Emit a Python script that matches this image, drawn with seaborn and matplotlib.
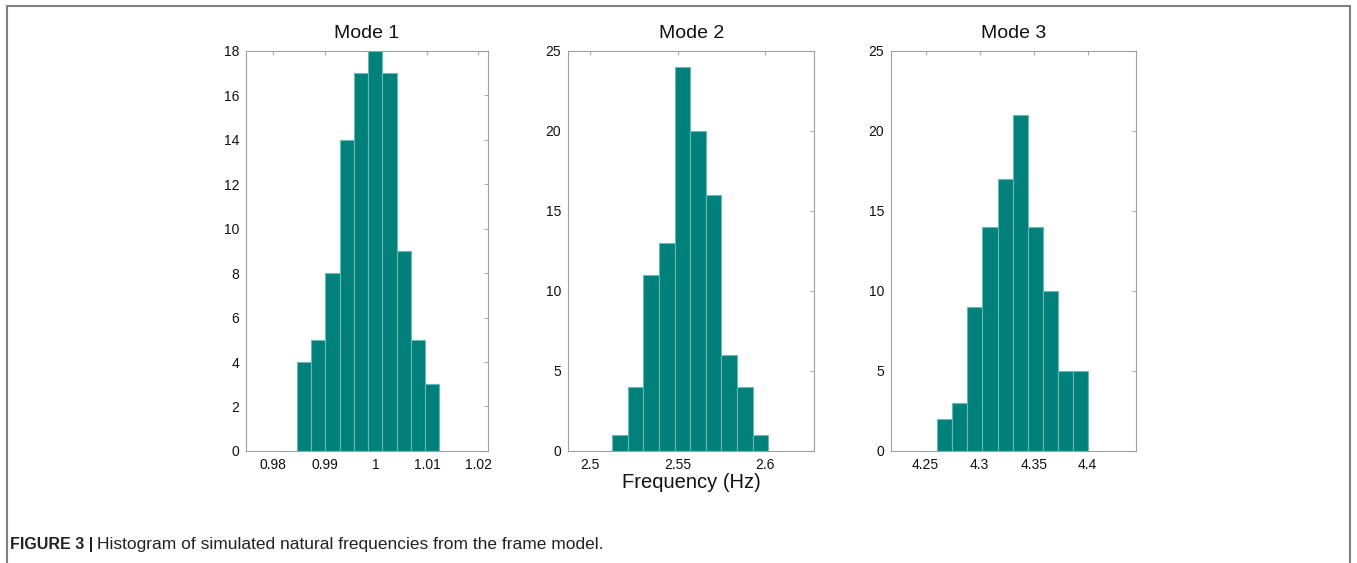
import numpy as np
import matplotlib
matplotlib.use('Agg')
import matplotlib.pyplot as plt
from matplotlib.lines import Line2D
import seaborn as sns

# bin edges and counts
mode1_edges = [0.98457, 0.98735, 0.99013, 0.99291, 0.99569, 0.99848,
               1.00126, 1.00404, 1.00682, 1.00960, 1.01239]
mode1_counts = [4, 5, 8, 14, 17, 18, 17, 9, 5, 3]

mode2_edges = [2.51254, 2.52145, 2.53036, 2.53927, 2.54818, 2.55710,
               2.56601, 2.57492, 2.58383, 2.59274, 2.60166]
mode2_counts = [1, 4, 11, 13, 24, 20, 16, 6, 4, 1]

mode3_edges = [4.2607, 4.27466, 4.28862, 4.30258, 4.31654, 4.3305,
               4.34446, 4.35842, 4.37238, 4.38634, 4.4003]
mode3_counts = [2, 3, 9, 14, 17, 21, 14, 10, 5, 5]

titles = ['Mode 1', 'Mode 2', 'Mode 3']
xticks = [[0.98, 0.99, 1.0, 1.01, 1.02], [2.5, 2.55, 2.6], [4.25, 4.3, 4.35, 4.4]]
xticklabels = [['0.98', '0.99', '1', '1.01', '1.02'], ['2.5', '2.55', '2.6'],
               ['4.25', '4.3', '4.35', '4.4']]
yticks = [list(range(0, 19, 2)), list(range(0, 26, 5)), list(range(0, 26, 5))]
xlims = [(0.97467, 1.0218), (2.4876, 2.6278), (4.2179, 4.4444)]
ylims = [(0, 18), (0, 25), (0, 25)]

sns.set_style('white')
plt.rcParams['font.family'] = ['Arial', 'Liberation Sans', 'DejaVu Sans']

fig = plt.figure(figsize=(13.57, 5.63), dpi=100)
positions = [[0.1813, 0.199, 0.1781, 0.711],
             [0.4188, 0.199, 0.1811, 0.711],
             [0.6566, 0.199, 0.1803, 0.711]]

data = [(mode1_edges, mode1_counts), (mode2_edges, mode2_counts), (mode3_edges, mode3_counts)]

for i, (edges, counts) in enumerate(data):
    ax = fig.add_axes(positions[i])
    centers = [(edges[k] + edges[k + 1]) / 2 for k in range(len(counts))]
    sns.histplot(x=centers, weights=counts, bins=edges, ax=ax,
                 color='#00807b', edgecolor='#6ab8b3', linewidth=0.8, alpha=1)
    ax.set_xlim(xlims[i])
    ax.set_ylim(ylims[i])
    ax.set_xticks(xticks[i])
    ax.set_xticklabels(xticklabels[i])
    ax.set_yticks(yticks[i])
    ax.set_ylabel('')
    ax.set_xlabel('Frequency (Hz)' if i == 1 else '', fontsize=14.5, labelpad=1, color='#111111')
    ax.set_title(titles[i], fontsize=14, pad=9, color='#111111')
    ax.tick_params(direction='in', length=3, color='#aaaaaa', labelsize=10,
                   labelcolor='#111111', top=True, right=True, pad=5)
    for s in ax.spines.values():
        s.set_color('#a0a0a0')
        s.set_linewidth(0.8)

# frame around the figure
fig.add_artist(Line2D([0.0055, 0.0055], [0.0, 0.989], color='#808080', lw=1.5, transform=fig.transFigure))
fig.add_artist(Line2D([0.9946, 0.9946], [0.0, 0.989], color='#808080', lw=1.5, transform=fig.transFigure))
fig.add_artist(Line2D([0.0055, 0.9946], [0.989, 0.989], color='#808080', lw=1.5, transform=fig.transFigure))

# caption
fig.text(0.0075, 0.024, 'FIGURE 3 |', fontsize=11.5, fontweight='bold', color='#222222')
fig.text(0.0715, 0.024, 'Histogram of simulated natural frequencies from the frame model.',
         fontsize=12.5, color='#222222')

fig.savefig('out.png', dpi=100)
